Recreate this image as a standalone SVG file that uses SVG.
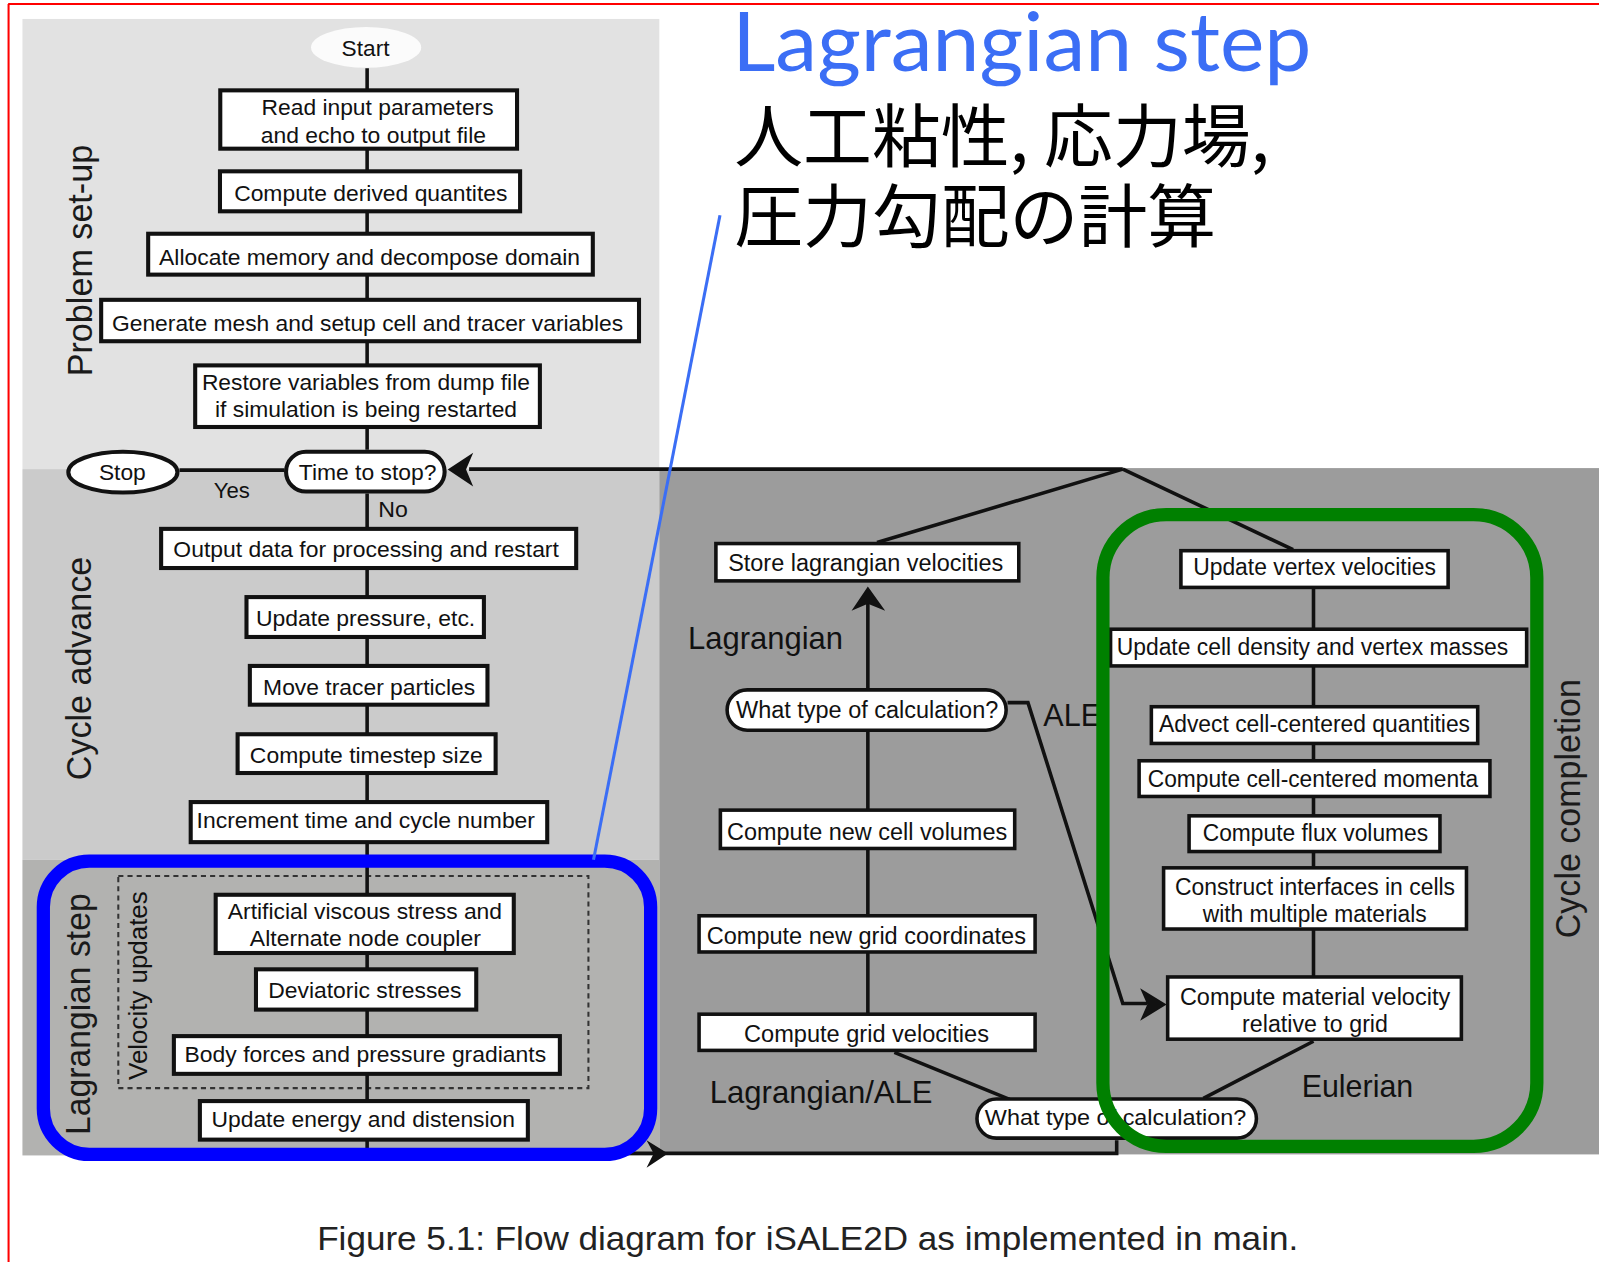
<svg xmlns="http://www.w3.org/2000/svg" width="1599" height="1262" viewBox="0 0 1599 1262">
<defs>
<style>
.box{fill:#fff;stroke:#111;stroke-width:4}
.rbox{fill:#fff;stroke:#111;stroke-width:3.5}
.t{font-family:"Liberation Sans",Arial,sans-serif;fill:#111}
.l{font-size:21.5px}
.r{font-size:23px}
.big{font-size:30px}
.lbl{font-size:35px;fill:#1a1a1a}
.conn{fill:none;stroke:#111;stroke-width:3.5;stroke-linejoin:miter}
.arrow{fill:#111;stroke:none}
</style>
</defs>
<rect width="1599" height="1262" fill="#fff"/>
<g transform="scale(1.0198)">
<g id="panels">
<rect x="22" y="18.6" width="624.5" height="441.4" fill="#e2e2e2"/>
<rect x="22" y="460" width="624.5" height="383" fill="#cbcbcb"/>
<rect x="22" y="843" width="624.5" height="290" fill="#b2b2b0"/>
<rect x="646.5" y="459" width="922" height="673" fill="#9c9c9c"/>
<rect x="116" y="859" width="461" height="208" fill="none" stroke="#333" stroke-width="2" stroke-dasharray="5 4"/>
</g>
<g id="connectors">
<path class="conn" d="M360 67V441M360 484V1131H1095V1118"/>
<path class="conn" d="M176 461H279"/>
<path class="conn" d="M1101 460H460M1101 460L860 532M1101 460L1268 539"/>
<path class="conn" d="M851 994V590"/>
<path class="conn" d="M988 689H1008L1101 984H1125"/>
<path class="conn" d="M877 1032L990 1078M1180 1077L1288 1021"/>
<path class="conn" d="M1288 577V958"/>
<polygon class="arrow" points="439,460.5 464,444 457,460.5 464,477"/>
<polygon class="arrow" points="851,575 835,599 851,592 868,599"/>
<polygon class="arrow" points="1144,985 1118,969 1125,985 1118,1001"/>
<polygon class="arrow" points="655,1131 634,1118 641,1131 634,1145"/>
</g>
<g id="n-start"><ellipse cx="359" cy="46.5" rx="54" ry="20" fill="#fbfbfb"/><text class="t l" x="335" y="55" textLength="47" lengthAdjust="spacingAndGlyphs">Start</text></g>
<g id="n-read"><rect class="box" x="216" y="88.6" width="291" height="57.2"/><text class="t l" x="256.5" y="112.8" textLength="227.5" lengthAdjust="spacingAndGlyphs">Read input parameters</text><text class="t l" x="255.6" y="140" textLength="221" lengthAdjust="spacingAndGlyphs">and echo to output file</text></g>
<g id="n-derived"><rect class="box" x="215.7" y="168" width="294.3" height="39.2"/><text class="t l" x="229.6" y="197" textLength="268" lengthAdjust="spacingAndGlyphs">Compute derived quantites</text></g>
<g id="n-allocate"><rect class="box" x="145.3" y="229.2" width="436" height="40.1"/><text class="t l" x="156" y="260" textLength="412.7" lengthAdjust="spacingAndGlyphs">Allocate memory and decompose domain</text></g>
<g id="n-generate"><rect class="box" x="99.2" y="294" width="527.4" height="40.6"/><text class="t l" x="109.8" y="324.6" textLength="501.2" lengthAdjust="spacingAndGlyphs">Generate mesh and setup cell and tracer variables</text></g>
<g id="n-restore"><rect class="box" x="191.4" y="358.3" width="338" height="60.4"/><text class="t l" x="198" y="382.4" textLength="321.6" lengthAdjust="spacingAndGlyphs">Restore variables from dump file</text><text class="t l" x="210.8" y="409" textLength="296.2" lengthAdjust="spacingAndGlyphs">if simulation is being restarted</text></g>
<g id="n-timestop"><rect class="box" x="280.5" y="443" width="155.5" height="39" rx="19.5" stroke-width="4.5"/><text class="t l" x="293" y="471" textLength="135" lengthAdjust="spacingAndGlyphs">Time to stop?</text></g>
<g id="n-stop"><ellipse class="box" cx="120.5" cy="463" rx="53.5" ry="20" stroke-width="4.5"/><text class="t l" x="97" y="471" textLength="46" lengthAdjust="spacingAndGlyphs">Stop</text></g>
<g id="edge-labels-left"><text class="t l" x="209.5" y="488.5" textLength="35.5" lengthAdjust="spacingAndGlyphs">Yes</text><text class="t l" x="371" y="507" textLength="29" lengthAdjust="spacingAndGlyphs">No</text></g>
<g id="n-output"><rect class="box" x="158" y="518.6" width="407" height="38.4"/><text class="t l" x="170" y="546" textLength="378" lengthAdjust="spacingAndGlyphs">Output data for processing and restart</text></g>
<g id="n-pressure"><rect class="box" x="241.7" y="585.5" width="232.8" height="39.1"/><text class="t l" x="251" y="613.5" textLength="215" lengthAdjust="spacingAndGlyphs">Update pressure, etc.</text></g>
<g id="n-tracer"><rect class="box" x="245" y="653" width="233" height="38"/><text class="t l" x="258" y="681.6" textLength="208" lengthAdjust="spacingAndGlyphs">Move tracer particles</text></g>
<g id="n-timestep"><rect class="box" x="233" y="720" width="253" height="38"/><text class="t l" x="245" y="748" textLength="228.5" lengthAdjust="spacingAndGlyphs">Compute timestep size</text></g>
<g id="n-increment"><rect class="box" x="187" y="786.5" width="349.6" height="39.3"/><text class="t l" x="192.8" y="812" textLength="331.8" lengthAdjust="spacingAndGlyphs">Increment time and cycle number</text></g>
<g id="n-artificial"><rect class="box" x="211.5" y="877.4" width="292.3" height="57.1"/><text class="t l" x="223.4" y="901" textLength="268.9" lengthAdjust="spacingAndGlyphs">Artificial viscous stress and</text><text class="t l" x="245" y="927.7" textLength="226.5" lengthAdjust="spacingAndGlyphs">Alternate node coupler</text></g>
<g id="n-deviatoric"><rect class="box" x="251" y="950.5" width="216" height="39.5"/><text class="t l" x="263" y="979" textLength="189.6" lengthAdjust="spacingAndGlyphs">Deviatoric stresses</text></g>
<g id="n-body"><rect class="box" x="170.5" y="1016" width="378.5" height="37"/><text class="t l" x="181" y="1041" textLength="354.5" lengthAdjust="spacingAndGlyphs">Body forces and pressure gradiants</text></g>
<g id="n-energy"><rect class="box" x="196" y="1079.7" width="321.6" height="37.8"/><text class="t l" x="207.4" y="1104.7" textLength="297.6" lengthAdjust="spacingAndGlyphs">Update energy and distension</text></g>
<g id="n-store"><rect class="rbox" x="702" y="533" width="297" height="36.6"/><text class="t r" x="714" y="559.7" textLength="269.8" lengthAdjust="spacingAndGlyphs">Store lagrangian velocities</text></g>
<g id="n-whattype1"><rect class="rbox" x="713" y="676.5" width="273.6" height="39.5" rx="19.75"/><text class="t r" x="721.7" y="703.8" textLength="257.2" lengthAdjust="spacingAndGlyphs">What type of calculation?</text></g>
<g id="n-cellvol"><rect class="rbox" x="706.4" y="794.4" width="288.6" height="37.6"/><text class="t r" x="713" y="823.3" textLength="274.6" lengthAdjust="spacingAndGlyphs">Compute new cell volumes</text></g>
<g id="n-gridcoord"><rect class="rbox" x="685.5" y="898" width="329.5" height="35.5"/><text class="t r" x="693" y="925.3" textLength="313" lengthAdjust="spacingAndGlyphs">Compute new grid coordinates</text></g>
<g id="n-gridvel"><rect class="rbox" x="685.5" y="994.5" width="329.5" height="35.5"/><text class="t r" x="729.6" y="1021.6" textLength="240.2" lengthAdjust="spacingAndGlyphs">Compute grid velocities</text></g>
<g id="n-whattype2"><rect class="rbox" x="958" y="1077.7" width="274" height="38.3" rx="19"/><text class="t" font-size="22" x="965.7" y="1103" textLength="256.3" lengthAdjust="spacingAndGlyphs">What type of calculation?</text></g>
<g id="n-vertex"><rect class="rbox" x="1158" y="540" width="262" height="36"/><text class="t r" x="1170" y="564.3" textLength="238" lengthAdjust="spacingAndGlyphs">Update vertex velocities</text></g>
<g id="n-density"><rect class="rbox" x="1089" y="617" width="408" height="36"/><text class="t r" x="1095" y="642.2" textLength="384" lengthAdjust="spacingAndGlyphs">Update cell density and vertex masses</text></g>
<g id="n-advect"><rect class="rbox" x="1129" y="693" width="320" height="36"/><text class="t r" x="1136.5" y="717.3" textLength="305" lengthAdjust="spacingAndGlyphs">Advect cell-centered quantities</text></g>
<g id="n-momenta"><rect class="rbox" x="1117" y="746" width="344" height="35"/><text class="t r" x="1125.4" y="771.3" textLength="324.1" lengthAdjust="spacingAndGlyphs">Compute cell-centered momenta</text></g>
<g id="n-flux"><rect class="rbox" x="1166" y="800" width="246" height="35"/><text class="t r" x="1179.4" y="824.5" textLength="221" lengthAdjust="spacingAndGlyphs">Compute flux volumes</text></g>
<g id="n-construct"><rect class="rbox" x="1141" y="851" width="297" height="60"/><text class="t r" x="1152.2" y="877.2" textLength="274.6" lengthAdjust="spacingAndGlyphs">Construct interfaces in cells</text><text class="t r" x="1179.4" y="904" textLength="219.6" lengthAdjust="spacingAndGlyphs">with multiple materials</text></g>
<g id="n-material"><rect class="rbox" x="1145" y="958" width="288" height="61"/><text class="t r" x="1157" y="985" textLength="265" lengthAdjust="spacingAndGlyphs">Compute material velocity</text><text class="t r" x="1218" y="1012" textLength="143" lengthAdjust="spacingAndGlyphs">relative to grid</text></g>
<g id="edge-labels-right">
<text class="t big" x="674.7" y="636.6" textLength="152" lengthAdjust="spacingAndGlyphs">Lagrangian</text>
<text class="t big" x="1023" y="711.6">ALE</text>
<text class="t big" x="696" y="1081.5" textLength="218.5" lengthAdjust="spacingAndGlyphs">Lagrangian/ALE</text>
<text class="t big" x="1276.4" y="1075.3" textLength="109.4" lengthAdjust="spacingAndGlyphs">Eulerian</text>
</g>
<g id="section-labels">
<text class="t lbl" transform="translate(90 255.5) rotate(-90)" x="0" y="0" text-anchor="middle" textLength="227" lengthAdjust="spacingAndGlyphs">Problem set-up</text>
<text class="t lbl" transform="translate(89 655.5) rotate(-90)" x="0" y="0" text-anchor="middle" textLength="219" lengthAdjust="spacingAndGlyphs">Cycle advance</text>
<text class="t lbl" transform="translate(88 994.5) rotate(-90)" x="0" y="0" text-anchor="middle" textLength="237" lengthAdjust="spacingAndGlyphs">Lagrangian step</text>
<text class="t" font-size="25" transform="translate(144 966.5) rotate(-90)" x="0" y="0" text-anchor="middle" textLength="185" lengthAdjust="spacingAndGlyphs">Velocity updates</text>
<text class="t lbl" font-size="32" transform="translate(1549 793) rotate(-90)" x="0" y="0" text-anchor="middle" textLength="254" lengthAdjust="spacingAndGlyphs">Cycle completion</text>
</g>
<g id="highlights">
<rect x="42.5" y="844.5" width="595.5" height="287.5" rx="45" fill="none" stroke="#0000ff" stroke-width="13"/>
<rect x="1081.5" y="504.6" width="425.5" height="619.4" rx="62" fill="none" stroke="#008000" stroke-width="13"/>
<line x1="582" y1="843" x2="706" y2="211" stroke="#3b6ef5" stroke-width="3"/>
</g>
<g id="annotation">
<text x="718" y="70" font-family="Lato,'Noto Sans',sans-serif" font-size="80" fill="#3b6ef5" textLength="568" lengthAdjust="spacingAndGlyphs">Lagrangian step</text>
<text x="720" y="158.5" font-family="'Noto Sans CJK JP',sans-serif" font-size="67.5" fill="#000">人工粘性, 応力場,</text>
<text x="720" y="237" font-family="'Noto Sans CJK JP',sans-serif" font-size="67.5" fill="#000">圧力勾配の計算</text>
</g>
<g id="caption">
<text x="311" y="1226" font-family="'Liberation Sans',Arial,sans-serif" font-size="32" fill="#222" textLength="962" lengthAdjust="spacingAndGlyphs">Figure 5.1: Flow diagram for iSALE2D as implemented in main.</text>
</g>
<g id="frame">
<line x1="8" y1="4" x2="1570" y2="4" stroke="#ff0000" stroke-width="2"/>
<line x1="8.4" y1="4" x2="8.4" y2="1240" stroke="#ff0000" stroke-width="2"/>
</g>
</g>
</svg>
